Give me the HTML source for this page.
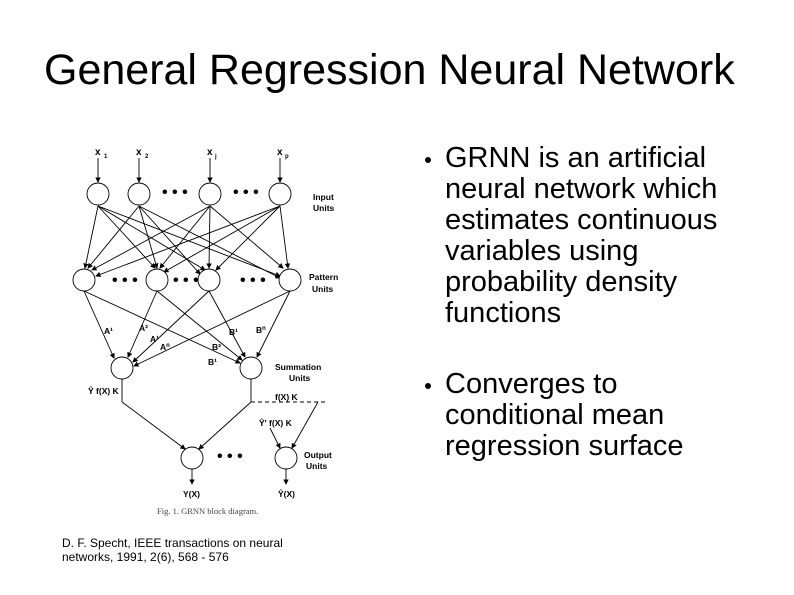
<!DOCTYPE html>
<html><head><style>
body{margin:0;width:794px;height:595px;background:#fff;position:relative;font-family:"Liberation Sans",sans-serif;overflow:hidden}
.t{position:absolute;left:44px;top:46px;font-size:43px;color:#000;white-space:nowrap}
.b{position:absolute;left:445px;font-size:29px;line-height:31px;color:#000;margin:0;white-space:nowrap}
.d{position:absolute;left:425px;width:6px;height:6px;border-radius:50%;background:#000}
.c{position:absolute;left:62px;top:536px;font-size:12px;line-height:14px}
</style></head><body>
<div class="t">General Regression Neural Network</div>
<div class="d" style="top:157px"></div>
<div class="b" style="top:143px">GRNN is an artificial<br>neural network which<br>estimates continuous<br>variables using<br>probability density<br>functions</div>
<div class="d" style="top:383px"></div>
<div class="b" style="top:369px">Converges to<br>conditional mean<br>regression surface</div>
<div class="c">D. F. Specht, IEEE transactions on neural<br>networks, 1991, 2(6), 568 - 576</div>
<svg width="794" height="595" style="position:absolute;left:0;top:0" font-family="Liberation Sans" font-size="8.5" font-weight="bold">
<defs><marker id="a" markerWidth="6" markerHeight="6" refX="5" refY="3" orient="auto"><path d="M0,0L6,3L0,6z" fill="#000"/></marker></defs>
<g stroke="#000" stroke-width="0.9" fill="none" marker-end="url(#a)">
<line x1="98" y1="158" x2="98" y2="182"/><line x1="139" y1="158" x2="139" y2="182"/><line x1="210" y1="158" x2="210" y2="182"/><line x1="280" y1="158" x2="280" y2="182"/>
<line x1="98" y1="206" x2="85" y2="268"/><line x1="98" y1="206" x2="155" y2="268"/><line x1="98" y1="206" x2="205" y2="270"/><line x1="98" y1="206" x2="280" y2="276"/>
<line x1="139" y1="206" x2="88" y2="268"/><line x1="139" y1="206" x2="157" y2="268"/><line x1="139" y1="206" x2="200" y2="274"/><line x1="139" y1="206" x2="280" y2="278"/>
<line x1="210" y1="206" x2="92" y2="270"/><line x1="210" y1="206" x2="160" y2="268"/><line x1="210" y1="206" x2="209" y2="268"/><line x1="210" y1="206" x2="283" y2="268"/>
<line x1="280" y1="206" x2="96" y2="276"/><line x1="280" y1="206" x2="164" y2="272"/><line x1="280" y1="206" x2="216" y2="270"/><line x1="280" y1="206" x2="288" y2="268"/>
<line x1="84" y1="291" x2="114" y2="358"/><line x1="84" y1="291" x2="240" y2="363"/>
<line x1="157" y1="291" x2="128" y2="357"/><line x1="157" y1="291" x2="242" y2="360"/>
<line x1="209" y1="291" x2="133" y2="362"/><line x1="209" y1="291" x2="245" y2="357"/>
<line x1="290" y1="291" x2="134" y2="366"/><line x1="290" y1="291" x2="257" y2="357"/>
<line x1="122" y1="402" x2="185" y2="449"/><line x1="251" y1="402" x2="199" y2="449"/>
<line x1="318" y1="402" x2="292" y2="448"/><line x1="270" y1="428" x2="280" y2="448"/>
<line x1="192" y1="469" x2="192" y2="484"/><line x1="286" y1="469" x2="286" y2="484"/>
</g>
<g stroke="#000" stroke-width="0.9" fill="none">
<line x1="122" y1="379" x2="122" y2="402"/><line x1="251" y1="379" x2="251" y2="402"/>
<line x1="251" y1="402" x2="328" y2="402" stroke-dasharray="4,3"/>
</g>
<g stroke="#000" stroke-width="0.9" fill="#fff">
<circle cx="98" cy="194" r="11"/><circle cx="139" cy="194" r="11"/><circle cx="210" cy="194" r="11"/><circle cx="280" cy="194" r="11"/>
<circle cx="84" cy="280" r="11"/><circle cx="157" cy="280" r="11"/><circle cx="209" cy="280" r="11"/><circle cx="290" cy="280" r="11"/>
<circle cx="122" cy="368" r="11"/><circle cx="251" cy="368" r="11"/>
<circle cx="192" cy="458" r="11"/><circle cx="286" cy="458" r="11"/>
</g>
<g fill="#000" font-size="16" font-weight="bold">
<text x="162" y="197">• • •</text><text x="233" y="197">• • •</text>
<text x="112" y="285">• • •</text><text x="173" y="285">• • •</text><text x="240" y="285">• • •</text>
<text x="217" y="461">• • •</text>
</g>
<g fill="#000">
<text x="95" y="155" font-size="10">x</text><text x="104" y="158" font-size="6">1</text>
<text x="136" y="155" font-size="10">x</text><text x="145" y="158" font-size="6">2</text>
<text x="207" y="155" font-size="10">x</text><text x="215" y="158" font-size="6">j</text>
<text x="277" y="155" font-size="10">x</text><text x="285" y="158" font-size="6">p</text>
<text x="313" y="200">Input</text><text x="313" y="211">Units</text>
<text x="309" y="280">Pattern</text><text x="312" y="292">Units</text>
<text x="275" y="370">Summation</text><text x="289" y="381">Units</text>
<text x="304" y="458">Output</text><text x="306" y="469">Units</text>
<text x="104" y="334">A¹</text><text x="139" y="331">A²</text><text x="150" y="342">A¹</text><text x="160" y="350">A<tspan font-size="6" dy="-3">n</tspan></text>
<text x="229" y="335">B¹</text><text x="212" y="350">B²</text><text x="208" y="365">B¹</text><text x="256" y="333">B<tspan font-size="6" dy="-3">n</tspan></text>
<text x="88" y="394">Ŷ f(X) K</text><text x="275" y="400">f(X) K</text><text x="259" y="426">Ŷ' f(X) K</text>
<text x="183" y="497">Y(X)</text><text x="278" y="497">Ŷ(X)</text>
<text x="157" y="514" font-family="Liberation Serif" font-weight="normal" font-size="8.5" fill="#444">Fig. 1.  GRNN block diagram.</text>
</g>
</svg>
</body></html>
